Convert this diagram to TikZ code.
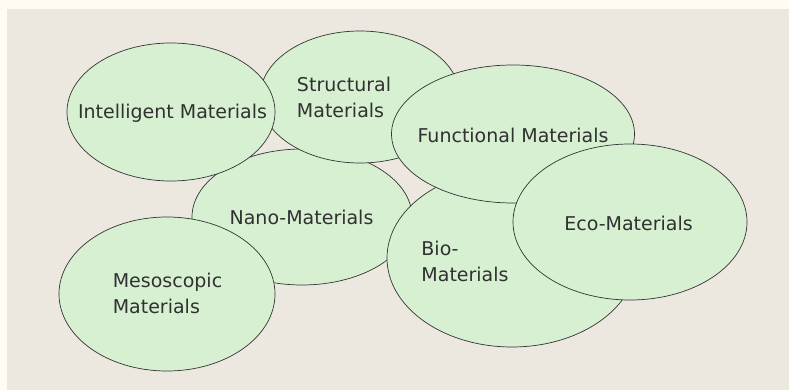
\documentclass[tikz,border=0pt]{standalone}
\usepackage{fontspec}
\setmainfont{DejaVu Sans}
\usepackage{tikz}
\usetikzlibrary{shapes.geometric}

\definecolor{paper}{HTML}{FEFCF2}
\definecolor{panel}{HTML}{ECE8E0}
\definecolor{leaf}{HTML}{D6F0D1}
\definecolor{ink}{HTML}{313131}

\begin{document}
\begin{tikzpicture}[x=1pt, y=-1pt,
  blob/.style={ellipse, draw=black!80, line width=0.7pt, fill=leaf, inner sep=0pt},
  tag/.style={text=ink, font=\fontsize{19}{26}\selectfont, align=left, inner sep=0pt}]
\useasboundingbox (0,0) rectangle (789,390);
\fill[paper] (0,0) rectangle (789,390);
\fill[panel] (7,9) rectangle (789,390);
% back to front
\node[blob, minimum width=220pt, minimum height=136pt] (nano) at (302,217) {};
\node[blob, minimum width=200pt, minimum height=132pt] (struct) at (360,97) {};
\node[blob, minimum width=208pt, minimum height=138pt] (intel) at (171,112) {};
\node[blob, minimum width=216pt, minimum height=154pt] (meso) at (167,294) {};
\node[blob, minimum width=250pt, minimum height=178pt] (bio) at (512,258) {};
\node[blob, minimum width=243pt, minimum height=138pt] (func) at (513,134) {};
\node[blob, minimum width=234pt, minimum height=156pt] (eco) at (630,222) {};
% labels
\node[tag] (lbl-intel) at (172.5,113) {Intelligent Materials};
\node[tag] (lbl-struct) at (344,97) {Structural\\Materials};
\node[tag] (lbl-func) at (513,135) {Functional Materials};
\node[tag] (lbl-nano) at (301.5,217) {Nano-Materials};
\node[tag] (lbl-meso) at (167.5,293) {Mesoscopic\\Materials};
\node[tag] (lbl-bio) at (465,261.5) {Bio-\\Materials};
\node[tag] (lbl-eco) at (628.5,223.5) {Eco-Materials};
\end{tikzpicture}
\end{document}
